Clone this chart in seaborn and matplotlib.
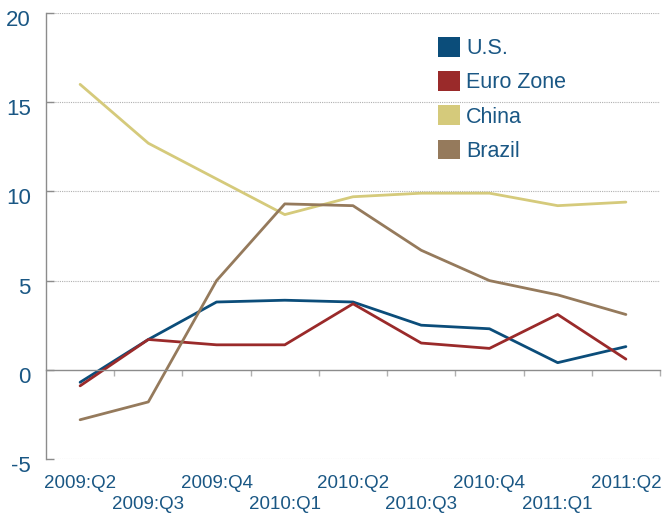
import matplotlib
matplotlib.use("Agg")
import matplotlib.pyplot as plt
import matplotlib.transforms as mtransforms
from matplotlib.patches import Patch
import seaborn as sns
import pandas as pd
import numpy as np

quarters = ["2009:Q2", "2009:Q3", "2009:Q4", "2010:Q1", "2010:Q2",
            "2010:Q3", "2010:Q4", "2011:Q1", "2011:Q2"]
us = [-0.7, 1.7, 3.8, 3.9, 3.8, 2.5, 2.3, 0.4, 1.3]
euro = [-0.9, 1.7, 1.4, 1.4, 3.7, 1.5, 1.2, 3.1, 0.6]
china = [16.0, 12.7, 10.7, 8.7, 9.7, 9.9, 9.9, 9.2, 9.4]
brazil = [-2.8, -1.8, 5.0, 9.3, 9.2, 6.7, 5.0, 4.2, 3.1]
series_names = ["U.S.", "Euro Zone", "China", "Brazil"]
colors = ["#0b4d7a", "#9a2a2a", "#d5ca7b", "#957a5c"]
yticks = [-5, 0, 5, 10, 15, 20]

sns.set_theme(style="white")
plt.rcParams["font.family"] = ["Liberation Sans", "DejaVu Sans"]
text_color = "#1a5784"

rows = []
for name, vals in zip(series_names, [us, euro, china, brazil]):
    for i, v in enumerate(vals):
        rows.append({"pos": i, "quarter": quarters[i], "country": name, "value": v})
df = pd.DataFrame(rows)

fig = plt.figure(figsize=(6.72, 5.14), dpi=100)
ax = fig.add_axes([46/672, 1-459/514, (660-46)/672, (459-13)/514])

palette = dict(zip(series_names, colors))
sns.lineplot(data=df, x="pos", y="value", hue="country", palette=palette,
             hue_order=series_names, linewidth=2.0, legend=False, ax=ax)

ax.set_xlim(-0.5, 8.5)
ax.set_ylim(-5, 20)
ax.set_xlabel("")
ax.set_ylabel("")

# spines
for s in ["top", "right"]:
    ax.spines[s].set_visible(False)
ax.spines["left"].set_color("#8c8c8c")
ax.spines["left"].set_linewidth(1.0)
ax.spines["bottom"].set_position(("data", 0))
ax.spines["bottom"].set_color("#8c8c8c")
ax.spines["bottom"].set_linewidth(1.0)

# gridlines (dotted) except at 0
for y in yticks:
    if y != 0:
        ax.axhline(y, color="#b0b0b0", linestyle=(0, (1, 1)), linewidth=0.8, zorder=0)

# y ticks
ax.set_yticks(yticks)
ax.set_yticklabels([str(t) for t in yticks])
ax.tick_params(axis="y", direction="in", length=6, width=1, color="#8c8c8c",
               labelsize=16, labelcolor=text_color, pad=11, left=True)
offset = mtransforms.ScaledTranslation(0, -0.05, fig.dpi_scale_trans)
for lab in ax.get_yticklabels():
    lab.set_transform(lab.get_transform() + offset)

# x ticks: boundaries as minor ticks on the zero line, labels drawn as text
ax.set_xticks([])
ax.set_xticks(np.arange(0.5, 9.0, 1.0), minor=True)
ax.tick_params(axis="x", which="minor", direction="out", length=4, width=1,
               color="#b0b0b0", bottom=True)
trans = mtransforms.blended_transform_factory(ax.transData, ax.transAxes)
for i, q in enumerate(quarters):
    yy = -0.054 if i % 2 == 0 else -0.103
    ax.text(i, yy, q, transform=trans, ha="center", va="center",
            fontsize=13.5, color=text_color, clip_on=False)

handles = [Patch(facecolor=c, edgecolor="none") for c in colors]
leg = fig.legend(handles, series_names, loc="upper left",
                 bbox_to_anchor=(438/672, 1-37/514), frameon=False,
                 fontsize=15.5, handlelength=1.0, handleheight=1.05,
                 handletextpad=0.3, labelspacing=0.55, borderpad=0,
                 borderaxespad=0)
for t in leg.get_texts():
    t.set_color(text_color)

fig.savefig("out.png", dpi=100)
